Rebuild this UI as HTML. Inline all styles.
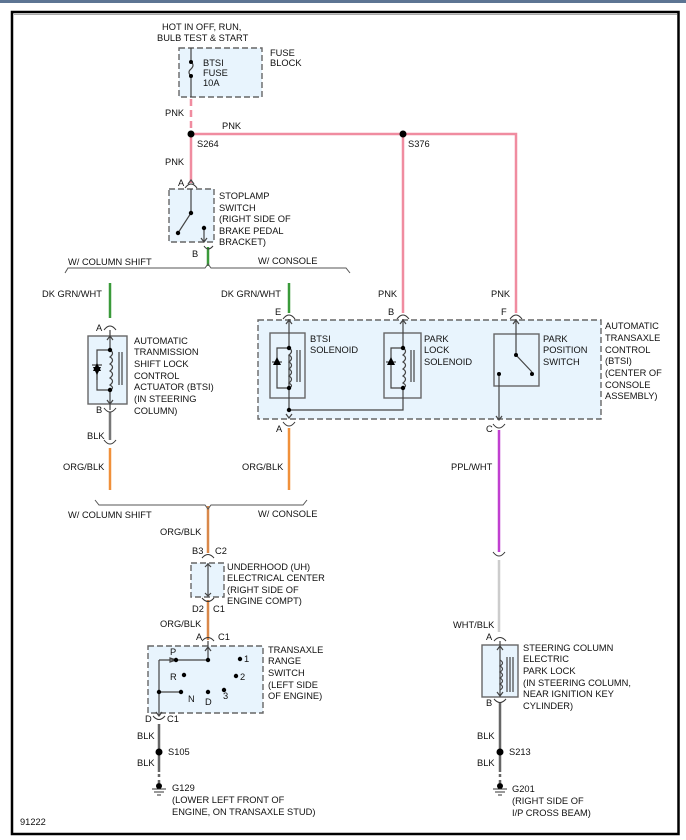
<!DOCTYPE html>
<html><head><meta charset="utf-8"><style>
html,body{margin:0;padding:0;background:#fff;}
svg{display:block;}
text{font-family:"Liberation Sans",sans-serif;font-size:9.3px;fill:#111;}
</style></head><body>
<svg width="686" height="840" viewBox="0 0 686 840" xmlns="http://www.w3.org/2000/svg">
<rect x="0" y="0" width="686" height="3" fill="#5d7593"/>
<rect x="12" y="12" width="666.5" height="822" fill="none" stroke="#000" stroke-width="2.5"/>
<line x1="14" y1="14.5" x2="677" y2="14.5" stroke="#aaa" stroke-width="1"/>

<g fill="#e8f4fd" stroke="#666" stroke-width="1.4" stroke-dasharray="6,3">
<rect x="179" y="48" width="83" height="49"/>
<rect x="169" y="189" width="45" height="53"/>
<rect x="258" y="320" width="343" height="99"/>
<rect x="191" y="563" width="33" height="34"/>
<rect x="148" y="646" width="115" height="67"/>
</g>
<g fill="#e8f4fd" stroke="#666" stroke-width="1.4">
<rect x="88" y="336" width="39" height="68"/>
<rect x="482" y="645" width="36" height="52"/>
<rect x="270" y="333" width="35" height="65"/>
<rect x="384" y="333" width="37" height="65"/>
<rect x="494" y="334" width="45" height="52"/>
</g>

<!-- wires -->
<g fill="none" stroke-width="2.5">
<line x1="191" y1="99" x2="191" y2="131" stroke="#f08ca0" stroke-dasharray="7,4"/>
<path d="M191 134 H516 V313 M403 134 V313 M191 134 V183" stroke="#f08ca0"/>
<line x1="110" y1="283" x2="110" y2="318" stroke="#3a9a3a"/>
<line x1="289" y1="283" x2="289" y2="313" stroke="#3a9a3a"/>
<line x1="208" y1="247" x2="208" y2="266" stroke="#3a9a3a"/>
<line x1="110" y1="412" x2="110" y2="440" stroke="#777"/>
<line x1="110" y1="448" x2="110" y2="490" stroke="#f0903a"/>
<line x1="289" y1="428" x2="289" y2="490" stroke="#f0903a"/>
<line x1="499" y1="430" x2="499" y2="552" stroke="#c040d0"/>
<line x1="499" y1="560" x2="499" y2="632" stroke="#ccc"/>
<line x1="208" y1="506" x2="208" y2="553" stroke="#d9884a"/>
<line x1="208" y1="600" x2="208" y2="640" stroke="#d9884a"/>
<line x1="159" y1="724" x2="159" y2="772" stroke="#666"/>
<line x1="159" y1="774" x2="159" y2="783" stroke="#666" stroke-dasharray="3,3"/>
<line x1="500" y1="703" x2="500" y2="772" stroke="#666"/>
<line x1="500" y1="774" x2="500" y2="783" stroke="#666" stroke-dasharray="3,3"/>
</g>

<!-- brackets -->
<g fill="none" stroke="#555" stroke-width="1">
<path d="M65 273 L68 268 H205 L208 264 L211 268 H346 L350 273"/>
<path d="M95 500 L99 505 H205 L208 509 L211 505 H303 L307 500"/>
</g>

<!-- splices -->
<g fill="#000">
<circle cx="191" cy="134" r="3.5"/><circle cx="403" cy="134" r="3.5"/>
<circle cx="159" cy="752" r="3.5"/><circle cx="500" cy="752" r="3.5"/>
<circle cx="159" cy="786" r="3"/><circle cx="500" cy="786" r="3"/>
</g>
<g stroke="#333" stroke-width="1">
<path d="M152 789 H166 M154 792 H164 M157 795 H161"/>
<path d="M493 789 H507 M495 792 H505 M498 795 H502"/>
</g>

<!-- connectors (arcs) -->
<g fill="none" stroke="#333" stroke-width="1">
<path d="M185 188 Q191 180 197 188"/>
<path d="M204 246 Q208 252 213 246"/>
<path d="M104 330 Q110 322 116 330"/>
<path d="M104 408 Q110 416 116 408"/>
<path d="M104 440 Q110 448 116 440"/>
<path d="M283 319 Q289 311 295 319"/>
<path d="M397 319 Q403 311 409 319"/>
<path d="M510 319 Q516 311 522 319"/>
<path d="M283 422 Q289 430 295 422"/>
<path d="M493 424 Q499 432 505 424"/>
<path d="M493 552 Q499 560 505 552"/>
<path d="M202 558 Q208 551 214 558"/>
<path d="M202 598 Q208 605 214 598"/>
<path d="M202 641 Q208 634 214 641"/>
<path d="M153 716 Q159 723 165 716"/>
<path d="M494 641 Q500 634 506 641"/>
<path d="M494 699 Q500 706 506 699"/>
</g>

<!-- internals -->
<g fill="none" stroke="#444" stroke-width="1.2">
<!-- fuse -->
<path d="M191 48 V62 M191 76 V97"/>
<path d="M191 62 q4 3 0 7 q-4 3 0 7"/>
<!-- stoplamp -->
<path d="M191 189 V213 L178 233 M204 228 V242"/>
<path d="M188 184 L191 180 L194 184" /><path d="M201 238 L204 242 L207 238"/>
<!-- actuator -->
<path d="M110 330 V350 M110 390 V410 M110 350 H97 V390 H110"/>
<path d="M110 350 q5 3 0 7 q5 3 0 7 q5 3 0 7 q5 3 0 7 q5 3 0 7 q5 3 0 5 V390"/>
<path d="M119 352 V385 M122 352 V385"/>
<path d="M92 365 H102 M97 365 V380"/>
<path d="M107 340 L110 336 L113 340 M107 400 L110 404 L113 400"/>
<!-- BTSI solenoid -->
<path d="M289 319 V348 M289 355 V412 M289 348 H277 V388 H289 M289 398 V410 H403 V398"/>
<path d="M289 348 q5 3 0 7 q5 3 0 7 q5 3 0 7 q5 3 0 7 q5 3 0 7 q5 3 0 5 V388"/>
<path d="M297 350 V382 M300 350 V382"/>
<path d="M272 362 H282"/>
<path d="M286 324 L289 320 L292 324 M286 414 L289 418 L292 414"/>
<!-- park lock -->
<path d="M403 319 V348 M403 348 H391 V388 H403 M403 388 V398"/>
<path d="M403 348 q5 3 0 7 q5 3 0 7 q5 3 0 7 q5 3 0 7 q5 3 0 7 q5 3 0 5 V388"/>
<path d="M411 350 V382 M414 350 V382"/>
<path d="M386 362 H396"/>
<path d="M400 324 L403 320 L406 324"/>
<!-- park position switch -->
<path d="M516 319 V355 L532 372 M499 374 V420"/>
<path d="M513 324 L516 320 L519 324 M496 416 L499 420 L502 416"/>
<!-- steering col -->
<path d="M500 641 V697"/>
<path d="M500 660 q5 3 0 6 q5 3 0 6 q5 3 0 6 q5 3 0 6 q5 3 0 6"/>
<path d="M507 657 V692 M510 657 V692 M513 657 V692"/>
<path d="M497 650 L500 646 L503 650 M497 692 L500 696 L503 692"/>
<!-- UH -->
<path d="M208 563 V597 M205 567 L208 564 L211 567 M205 593 L208 596 L211 593"/>
<!-- TRS -->
<path d="M208 641 V660 H176 M159 660 H176 M159 660 V716 M159 692 H181"/>
<path d="M205 651 L208 647 L211 651 M156 712 L159 716 L162 712 M176 660 L170 658 V662 Z"/>
</g>
<g fill="#000">
<polygon points="277,357 273,365 281,365"/><polygon points="391,357 387,365 395,365"/>
<polygon points="97,363 93,371 101,371"/><polygon points="97,375 93,367 101,367"/>
<circle cx="191" cy="62" r="2"/><circle cx="191" cy="76" r="2"/>
<circle cx="191" cy="213" r="2.2"/><circle cx="178" cy="233" r="2.2"/><circle cx="204" cy="228" r="2.2"/>
<circle cx="110" cy="350" r="2.2"/><circle cx="110" cy="390" r="2.2"/>
<circle cx="289" cy="348" r="2.2"/><circle cx="289" cy="388" r="2.2"/><circle cx="289" cy="410" r="2.2"/>
<circle cx="403" cy="348" r="2.2"/><circle cx="403" cy="388" r="2.2"/>
<circle cx="516" cy="355" r="2"/><circle cx="532" cy="374" r="2"/><circle cx="499" cy="374" r="2"/>
<circle cx="208" cy="660" r="2.2"/><circle cx="176" cy="660" r="2.2"/><circle cx="240" cy="659" r="2.2"/>
<circle cx="184" cy="675" r="2.2"/><circle cx="236" cy="676" r="2.2"/><circle cx="159" cy="692" r="2.2"/>
<circle cx="181" cy="692" r="2.2"/><circle cx="208" cy="692" r="2.2"/><circle cx="224" cy="690" r="2.2"/>
</g>

<!-- text -->
<text x="162" y="30">HOT IN OFF, RUN,</text>
<text x="157" y="41">BULB TEST &amp; START</text>
<text x="203" y="66">BTSI</text><text x="203" y="76">FUSE</text><text x="203" y="86">10A</text>
<text x="270" y="56">FUSE</text><text x="270" y="66">BLOCK</text>
<text x="165" y="116">PNK</text><text x="222" y="129">PNK</text><text x="197" y="147">S264</text>
<text x="408" y="147">S376</text><text x="165" y="165">PNK</text>
<text x="178" y="186">A</text><text x="192" y="257">B</text>
<text x="219" y="199">STOPLAMP</text><text x="219" y="211">SWITCH</text><text x="219" y="222">(RIGHT SIDE OF</text>
<text x="219" y="234">BRAKE PEDAL</text><text x="219" y="245">BRACKET)</text>
<text x="68" y="265">W/ COLUMN SHIFT</text><text x="258" y="264">W/ CONSOLE</text>
<text x="42" y="297">DK GRN/WHT</text><text x="221" y="297">DK GRN/WHT</text>
<text x="378" y="297">PNK</text><text x="491" y="297">PNK</text>
<text x="96" y="331">A</text><text x="96" y="413">B</text>
<text x="134" y="344">AUTOMATIC</text><text x="134" y="355">TRANMISSION</text><text x="134" y="367">SHIFT LOCK</text>
<text x="134" y="379">CONTROL</text><text x="134" y="390">ACTUATOR (BTSI)</text><text x="134" y="402">(IN STEERING</text><text x="134" y="414">COLUMN)</text>
<text x="275" y="315">E</text><text x="388" y="315">B</text><text x="501" y="315">F</text>
<text x="310" y="342">BTSI</text><text x="310" y="353">SOLENOID</text>
<text x="424" y="342">PARK</text><text x="424" y="353">LOCK</text><text x="424" y="365">SOLENOID</text>
<text x="543" y="342">PARK</text><text x="543" y="353">POSITION</text><text x="543" y="365">SWITCH</text>
<text x="605" y="329">AUTOMATIC</text><text x="605" y="341">TRANSAXLE</text><text x="605" y="353">CONTROL</text>
<text x="605" y="364">(BTSI)</text><text x="605" y="376">(CENTER OF</text><text x="605" y="388">CONSOLE</text><text x="605" y="399">ASSEMBLY)</text>
<text x="276" y="432">A</text><text x="486" y="432">C</text>
<text x="87" y="439">BLK</text>
<text x="63" y="470">ORG/BLK</text><text x="242" y="470">ORG/BLK</text><text x="451" y="470">PPL/WHT</text>
<text x="68" y="518">W/ COLUMN SHIFT</text><text x="258" y="517">W/ CONSOLE</text>
<text x="160" y="535">ORG/BLK</text>
<text x="192" y="554">B3</text><text x="215" y="554">C2</text>
<text x="227" y="570">UNDERHOOD (UH)</text><text x="227" y="581">ELECTRICAL CENTER</text>
<text x="227" y="593">(RIGHT SIDE OF</text><text x="227" y="604">ENGINE COMPT)</text>
<text x="192" y="612">D2</text><text x="213" y="612">C1</text>
<text x="160" y="627">ORG/BLK</text>
<text x="196" y="640">A</text><text x="218" y="640">C1</text>
<text x="268" y="653">TRANSAXLE</text><text x="268" y="664">RANGE</text><text x="268" y="676">SWITCH</text>
<text x="268" y="688">(LEFT SIDE</text><text x="268" y="699">OF ENGINE)</text>
<text x="170" y="655">P</text><text x="244" y="662">1</text><text x="170" y="680">R</text><text x="240" y="680">2</text>
<text x="188" y="702">N</text><text x="205" y="705">D</text><text x="223" y="699">3</text>
<text x="145" y="722">D</text><text x="167" y="722">C1</text>
<text x="137" y="739">BLK</text><text x="168" y="755">S105</text><text x="137" y="766">BLK</text>
<text x="172" y="791">G129</text><text x="172" y="803">(LOWER LEFT FRONT OF</text><text x="172" y="815">ENGINE, ON TRANSAXLE STUD)</text>
<text x="20" y="825">91222</text>
<text x="453" y="628">WHT/BLK</text>
<text x="486" y="640">A</text><text x="486" y="706">B</text>
<text x="523" y="651">STEERING COLUMN</text><text x="523" y="662">ELECTRIC</text><text x="523" y="674">PARK LOCK</text>
<text x="523" y="686">(IN STEERING COLUMN,</text><text x="523" y="697">NEAR IGNITION KEY</text><text x="523" y="709">CYLINDER)</text>
<text x="477" y="739">BLK</text><text x="509" y="755">S213</text><text x="477" y="766">BLK</text>
<text x="512" y="792">G201</text><text x="512" y="804">(RIGHT SIDE OF</text><text x="512" y="816">I/P CROSS BEAM)</text>
</svg>
</body></html>
